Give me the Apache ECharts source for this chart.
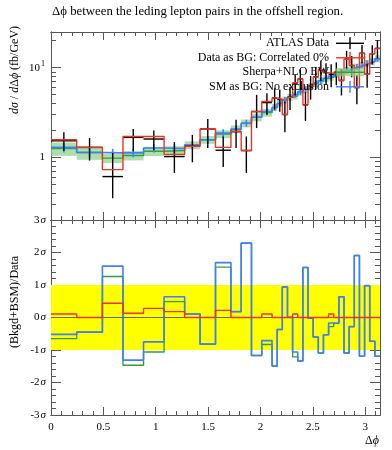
<!DOCTYPE html>
<html><head><meta charset="utf-8">
<script src="https://cdn.jsdelivr.net/npm/echarts@6/dist/echarts.min.js"></script>
<style>html,body{margin:0;padding:0;background:#fff}#c{width:392px;height:450px}</style>
</head><body><div id="c"></div>
<script>
// ---- data ----
const binEdges = [0, 0.2454, 0.4909, 0.6872, 0.8836, 1.0799, 1.2763, 1.4235, 1.5708, 1.7181, 1.8162, 1.9144, 2.0126, 2.1108,
  2.1598, 2.2089, 2.2580, 2.3071, 2.3562, 2.4053, 2.4544, 2.5035, 2.5525, 2.6016, 2.6507, 2.6998, 2.7489, 2.7980,
  2.8471, 2.8962, 2.9452, 2.9943, 3.0434, 3.0925, 3.1416];
const dataValues = [1.53, 1.29, 0.61, 1.67, 1.60, 1.02, 1.33, 2.07, 1.20, 1.94, 1.19, 3.24, 4.08, 4.6, 4.42, 3.0, 4.67,
  6.6, 7.5, 3.85, 6.2, 7.9, 9.5, 8.8, 8.45, 8.86, 7.2, 12.4, 10.6, 6.0, 14.5, 8.46, 14.3, 16.4];
const dataErrUp = [0.38, 0.35, 0.51, 0.40, 0.39, 0.46, 0.45, 0.60, 0.51, 0.68, 0.52, 1.73, 1.12, 1.3, 1.3, 1.2, 1.4,
  1.8, 2.0, 1.5, 1.9, 2.2, 2.5, 2.4, 2.5, 2.6, 2.4, 3.0, 2.9, 2.3, 3.4, 2.6, 3.5, 3.8];
const dataErrDown = [0.35, 0.37, 0.26, 0.50, 0.40, 0.35, 0.45, 0.80, 0.42, 0.67, 0.52, 1.12, 1.10, 1.2, 1.2, 1.1, 1.3,
  1.7, 1.9, 1.3, 1.8, 2.1, 2.4, 2.3, 2.4, 2.5, 2.3, 2.9, 2.8, 2.1, 3.3, 2.5, 3.4, 3.7];
const dataAsBG = [1.57, 1.29, 0.73, 1.71, 1.71, 1.08, 1.33, 2.07, 1.29, 1.94, 1.19, 3.24, 4.19, 4.6, 4.42, 3.0, 4.67,
  6.8, 7.5, 3.85, 6.2, 7.9, 9.5, 8.8, 8.7, 8.86, 7.2, 12.4, 10.6, 6.0, 14.5, 8.46, 14.3, 16.4];
const sherpaNLO = [1.25, 1.13, 0.98, 1.05, 1.17, 1.19, 1.37, 1.57, 1.82, 2.06, 2.40, 2.80, 3.15, 3.60, 3.98, 4.37, 4.68,
  4.85, 5.37, 5.75, 6.17, 6.68, 7.16, 7.59, 7.85, 8.41, 8.91, 9.33, 9.77, 10.2, 10.7, 11.2, 11.7, 12.6];
const sherpaBandRel = [0.17, 0.17, 0.12, 0.12, 0.12, 0.12, 0.10, 0.10, 0.10, 0.10, 0.10, 0.10, 0.10, 0.09, 0.09, 0.09,
  0.09, 0.09, 0.09, 0.09, 0.09, 0.09, 0.09, 0.09, 0.09, 0.09, 0.09, 0.09, 0.09, 0.09, 0.09, 0.09, 0.09, 0.09];
const smAsBG = [1.29, 1.13, 1.12, 1.12, 1.27, 1.25, 1.37, 1.57, 1.87, 2.06, 2.40, 2.80, 3.24, 3.60, 3.98, 4.37, 4.68,
  5.01, 5.37, 5.75, 6.17, 6.68, 7.16, 7.59, 8.04, 8.41, 8.91, 9.33, 9.77, 10.2, 10.7, 11.2, 11.7, 12.6];
const smErrRel = [0.12, 0.12, 0.11, 0.11, 0.11, 0.11, 0.10, 0.10, 0.10, 0.10, 0.09, 0.09, 0.09, 0.08, 0.08, 0.08, 0.08,
  0.08, 0.08, 0.08, 0.08, 0.08, 0.08, 0.08, 0.08, 0.08, 0.08, 0.08, 0.08, 0.08, 0.08, 0.08, 0.08, 0.08];
const pullDataAsBG = [0.11, 0, 0.44, 0.13, 0.28, 0.18, 0, 0, 0.22, 0, 0, 0, 0.11, 0, 0, 0, 0, 0.11, 0, 0, 0, 0, 0, 0,
  0.11, 0, 0, 0, 0, 0, 0, 0, 0, 0];
const pullSherpa = [-0.65, -0.45, 1.26, -1.47, -1.06, 0.49, 0.11, -0.82, 1.55, 0.18, 2.29, -1.17, -0.83, -1.49, -0.37,
  0.94, 0.01, -1.21, -1.34, 1.54, -0.02, -0.60, -1.09, -0.53, -0.28, -0.18, 0.64, -1.09, -0.28, 1.91, -1.19, 0.98,
  -0.73, -1.19];
const pullSM = [-0.52, -0.45, 1.58, -1.31, -0.75, 0.64, 0.11, -0.82, 1.69, 0.18, 2.29, -1.17, -0.71, -1.49, -0.37,
  0.94, 0.01, -1.06, -1.34, 1.54, -0.02, -0.60, -1.09, -0.53, -0.17, -0.18, 0.64, -1.09, -0.28, 1.91, -1.19, 0.98,
  -0.73, -1.19];
const sigmaBand = [-1, 1];

// ---- ticks and labels ----
const xMajorTicks = [0, 0.5, 1, 1.5, 2, 2.5, 3];
const xMinorTicks = [0.1, 0.2, 0.3, 0.4, 0.6, 0.7, 0.8, 0.9, 1.1, 1.2, 1.3, 1.4, 1.6, 1.7, 1.8, 1.9, 2.1, 2.2, 2.3, 2.4,
  2.6, 2.7, 2.8, 2.9, 3.1];
const yTopMajorTicks = [1, 10];
const yTopMinorTicks = [0.2, 0.3, 0.4, 0.5, 0.6, 0.7, 0.8, 0.9, 2, 3, 4, 5, 6, 7, 8, 9, 20];
const yBotMajorTicks = [-3, -2, -1, 0, 1, 2, 3];
const yBotMinorTicks = [-2.8, -2.6, -2.4, -2.2, -1.8, -1.6, -1.4, -1.2, -0.8, -0.6, -0.4, -0.2, 0.2, 0.4, 0.6, 0.8,
  1.2, 1.4, 1.6, 1.8, 2.2, 2.4, 2.6, 2.8];
const legendNames = ['ATLAS Data', 'Data as BG: Correlated 0%', 'Sherpa+NLO EW', 'SM as BG: No exclusion'];
const titleText = 'Δϕ between the leding lepton pairs in the offshell region.';

// ---- style ----
const FONT = '"Liberation Serif", "DejaVu Serif", serif';
const C = { data: '#000000', red: '#ee3322', green: '#33a033', blue: '#3f7fff',
  band: 'rgba(140,208,140,0.7)', yellow: '#ffff00', frame: '#555555' };
const X_MIN = 0, X_MAX = Math.PI;

function stepPoints(vals) {
  const pts = [];
  vals.forEach((v, i) => { pts.push([binEdges[i], v]); pts.push([binEdges[i + 1], v]); });
  return pts;
}

function xAxis(grid, pos, ticks, len, labels) {
  return {
    type: 'value', gridIndex: grid, position: pos, min: X_MIN, max: X_MAX,
    axisLine: { show: true, onZero: false, lineStyle: { color: C.frame, width: 1 } },
    axisTick: { show: true, inside: true, length: len, customValues: ticks, lineStyle: { color: C.frame, width: 1 } },
    axisLabel: labels ? { show: true, customValues: xMajorTicks, margin: 7, fontFamily: FONT, fontSize: 11, color: '#000' } : { show: false },
    splitLine: { show: false }
  };
}
function yAxisTop(pos, ticks, len, labels) {
  return {
    type: 'log', logBase: 10, gridIndex: 0, position: pos, min: 0.2, max: 25,
    axisLine: { show: true, onZero: false, lineStyle: { color: C.frame, width: 1 } },
    axisTick: { show: true, inside: true, length: len, customValues: ticks, lineStyle: { color: C.frame, width: 1 } },
    axisLabel: labels ? {
      show: true, customValues: yTopMajorTicks, margin: 6, fontFamily: FONT, fontSize: 11, color: '#000',
      formatter: v => Math.round(v) === 1 ? '{b|1}' : '{b|10}{s|1}',
      rich: { b: { fontFamily: FONT, fontSize: 11 }, s: { fontFamily: FONT, fontSize: 8, padding: [0, 0, 7, 1] } }
    } : { show: false },
    splitLine: { show: false }
  };
}
function yAxisBot(pos, ticks, len, labels) {
  return {
    type: 'value', gridIndex: 1, position: pos, min: -3, max: 3,
    axisLine: { show: true, onZero: false, lineStyle: { color: C.frame, width: 1 } },
    axisTick: { show: true, inside: true, length: len, customValues: ticks, lineStyle: { color: C.frame, width: 1 } },
    axisLabel: labels ? {
      show: true, customValues: yBotMajorTicks, margin: 5, fontFamily: FONT, fontSize: 11, color: '#000',
      formatter: v => '{n|' + Math.round(v) + '}{s|σ}',
      rich: { n: { fontFamily: FONT, fontSize: 11 }, s: { fontFamily: FONT, fontSize: 11, fontStyle: 'italic', padding: [0, 0, 0, 1] } }
    } : { show: false },
    splitLine: { show: false }
  };
}

const xAxes = [
  xAxis(0, 'bottom', xMajorTicks, 8, false), xAxis(0, 'bottom', xMinorTicks, 4, false),
  xAxis(0, 'top', xMajorTicks, 8, false), xAxis(0, 'top', xMinorTicks, 4, false),
  xAxis(1, 'bottom', xMajorTicks, 8, true), xAxis(1, 'bottom', xMinorTicks, 4, false),
  xAxis(1, 'top', xMajorTicks, 8, false), xAxis(1, 'top', xMinorTicks, 4, false)
];
const yAxes = [
  yAxisTop('left', yTopMajorTicks, 10, true), yAxisTop('left', yTopMinorTicks, 5, false),
  yAxisTop('right', yTopMajorTicks, 10, false), yAxisTop('right', yTopMinorTicks, 5, false),
  yAxisBot('left', yBotMajorTicks, 10, true), yAxisBot('left', yBotMinorTicks, 5, false),
  yAxisBot('right', yBotMajorTicks, 10, false), yAxisBot('right', yBotMinorTicks, 5, false)
];

function stepSeries(vals, color, width, xi, yi, z) {
  return { type: 'line', xAxisIndex: xi, yAxisIndex: yi, data: stepPoints(vals), showSymbol: false, symbol: 'none',
    lineStyle: { color: color, width: width }, itemStyle: { color: color }, z: z, silent: true, animation: false };
}

const series = [
  // Sherpa uncertainty band
  { type: 'custom', xAxisIndex: 0, yAxisIndex: 0, z: 2, silent: true,
    data: sherpaNLO.map((v, i) => [binEdges[i], binEdges[i + 1], v * (1 - sherpaBandRel[i]), v * (1 + sherpaBandRel[i])]),
    encode: { x: [0, 1], y: [2, 3] },
    renderItem: (params, api) => {
      const a = api.coord([api.value(0), api.value(3)]);
      const b = api.coord([api.value(1), api.value(2)]);
      return { type: 'rect', shape: { x: a[0], y: a[1], width: b[0] - a[0], height: b[1] - a[1] }, style: { fill: C.band } };
    } },
  stepSeries(sherpaNLO, C.green, 1.4, 0, 0, 3),
  stepSeries(smAsBG, C.blue, 1.6, 0, 0, 4),
  // SM error ticks
  { type: 'custom', xAxisIndex: 0, yAxisIndex: 0, z: 4, silent: true,
    data: smAsBG.map((v, i) => [binEdges[i], binEdges[i + 1], v * (1 - smErrRel[i]), v * (1 + smErrRel[i])]),
    encode: { x: [0, 1], y: [2, 3] },
    renderItem: (params, api) => {
      const xc = (api.value(0) + api.value(1)) / 2;
      const a = api.coord([xc, api.value(2)]), b = api.coord([xc, api.value(3)]);
      return { type: 'line', shape: { x1: a[0], y1: a[1], x2: b[0], y2: b[1] }, style: { stroke: C.blue, lineWidth: 1.6 } };
    } },
  // ATLAS data
  { type: 'custom', xAxisIndex: 0, yAxisIndex: 0, z: 5, silent: true,
    data: dataValues.map((v, i) => [binEdges[i], binEdges[i + 1], v, v - dataErrDown[i], v + dataErrUp[i]]),
    encode: { x: [0, 1], y: [2, 3, 4] },
    renderItem: (params, api) => {
      const x0 = api.value(0), x1 = api.value(1), xc = (x0 + x1) / 2, v = api.value(2);
      const l = api.coord([x0, v]), r = api.coord([x1, v]);
      const lo = api.coord([xc, api.value(3)]), hi = api.coord([xc, api.value(4)]);
      return { type: 'group', children: [
        { type: 'line', shape: { x1: l[0], y1: l[1], x2: r[0], y2: r[1] }, style: { stroke: C.data, lineWidth: 1.4 } },
        { type: 'line', shape: { x1: hi[0], y1: hi[1], x2: lo[0], y2: lo[1] }, style: { stroke: C.data, lineWidth: 1.4 } }
      ] };
    } },
  stepSeries(dataAsBG, C.red, 1.4, 0, 0, 6),

  // ---- bottom panel ----
  { type: 'custom', xAxisIndex: 4, yAxisIndex: 4, z: 1, silent: true,
    data: [[X_MIN, X_MAX, sigmaBand[0], sigmaBand[1]]],
    encode: { x: [0, 1], y: [2, 3] },
    renderItem: (params, api) => {
      const a = api.coord([api.value(0), api.value(3)]);
      const b = api.coord([api.value(1), api.value(2)]);
      return { type: 'rect', shape: { x: a[0], y: a[1], width: b[0] - a[0], height: b[1] - a[1] }, style: { fill: C.yellow } };
    },
    markLine: { silent: true, symbol: 'none', label: { show: false }, animation: false,
      lineStyle: { color: '#666', width: 1, type: 'solid' }, data: [{ yAxis: 0 }] } },
  stepSeries(pullSherpa, C.green, 1.4, 4, 4, 3),
  stepSeries(pullSM, C.blue, 1.6, 4, 4, 4),
  stepSeries(pullDataAsBG, C.red, 1.4, 4, 4, 5)
];

// ---- legend (drawn with graphic elements) ----
const legendColors = [C.data, C.red, C.green, C.blue];
const legendTicks = [true, true, false, true];
const graphics = [];
legendNames.forEach((name, i) => {
  const y = 43.3 + i * 14.5;
  graphics.push({ type: 'text', x: 329, y: y, z: 100,
    style: { text: name, font: '12px ' + FONT, fill: '#000', align: 'right', verticalAlign: 'middle' } });
  if (i === 2) graphics.push({ type: 'rect', z: 99, shape: { x: 336, y: y - 4, width: 28, height: 8 }, style: { fill: C.band } });
  graphics.push({ type: 'line', z: 100, shape: { x1: 336, y1: y, x2: 364, y2: y }, style: { stroke: legendColors[i], lineWidth: 1.4 } });
  if (legendTicks[i]) graphics.push({ type: 'line', z: 100, shape: { x1: 350, y1: y - 6, x2: 350, y2: y + 6 }, style: { stroke: legendColors[i], lineWidth: 1.4 } });
});
// axis titles
graphics.push({ type: 'text', x: 15, y: 70, rotation: Math.PI / 2, z: 100,
  style: { text: '{i|dσ} / {i|d}Δ{i|ϕ} (fb/GeV)', font: '12px ' + FONT, fill: '#000', align: 'center', verticalAlign: 'middle',
    rich: { i: { fontStyle: 'italic', fontFamily: FONT, fontSize: 12 } } } });
graphics.push({ type: 'text', x: 15, y: 302, rotation: Math.PI / 2, z: 100,
  style: { text: '(Bkgd+BSM)/Data', font: '12px ' + FONT, fill: '#000', align: 'center', verticalAlign: 'middle' } });
graphics.push({ type: 'text', x: 372, y: 441, z: 100,
  style: { text: 'Δ{i|ϕ}', font: '12px ' + FONT, fill: '#000', align: 'center', verticalAlign: 'middle',
    rich: { i: { fontStyle: 'italic', fontFamily: FONT, fontSize: 12 } } } });

const chart = echarts.init(document.getElementById('c'), null, { renderer: 'canvas' });
chart.setOption({
  animation: false,
  backgroundColor: '#ffffff',
  textStyle: { fontFamily: FONT },
  title: { text: titleText, left: 52, top: 5, padding: 0,
    textStyle: { fontFamily: FONT, fontSize: 12.8, fontWeight: 'normal', color: '#000' } },
  grid: [
    { left: 51, top: 32, width: 329, height: 188, outerBoundsMode: 'none' },
    { left: 51, top: 220, width: 329, height: 195, outerBoundsMode: 'none' }
  ],
  xAxis: xAxes,
  yAxis: yAxes,
  series: series,
  graphic: graphics
});
</script>
</body></html>
